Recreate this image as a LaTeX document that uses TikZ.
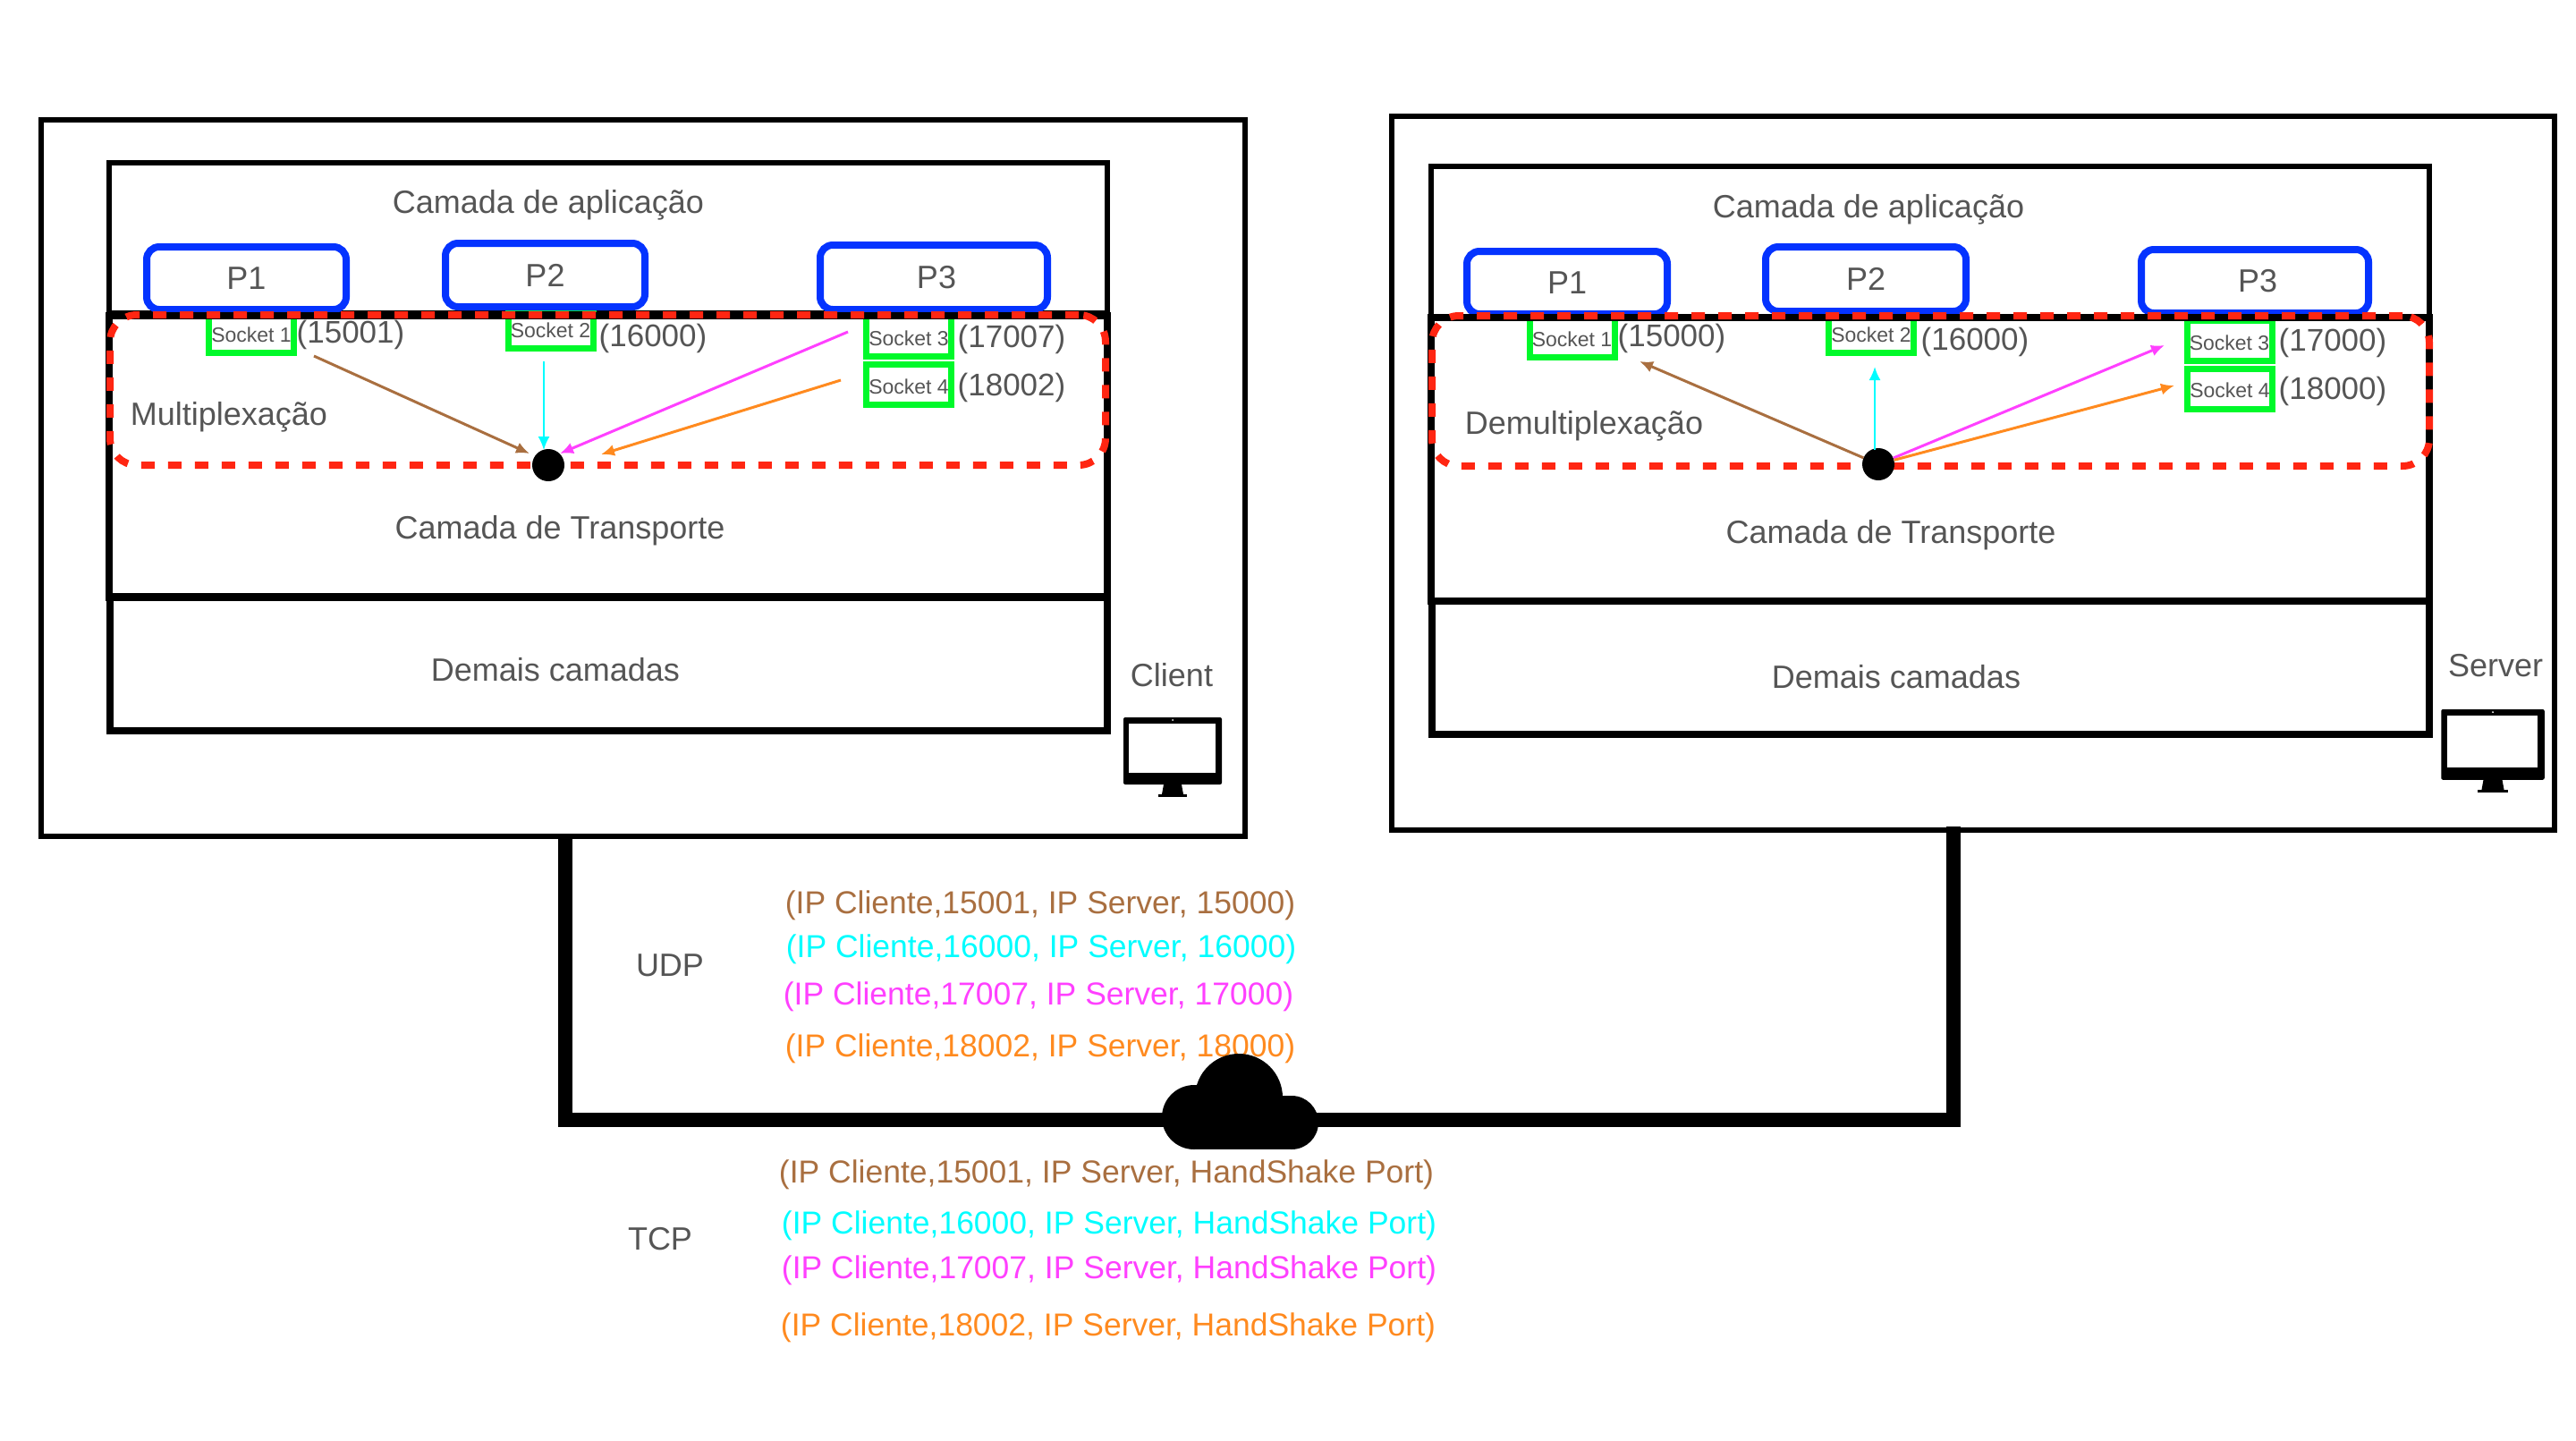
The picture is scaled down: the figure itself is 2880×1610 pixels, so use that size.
\documentclass[tikz,border=0pt]{standalone}
\usepackage{fontspec}
\setmainfont{Liberation Sans}
\usetikzlibrary{arrows.meta}
\definecolor{textgray}{HTML}{555555}
\definecolor{procblue}{HTML}{0433FF}
\definecolor{sockgreen}{HTML}{00F92A}
\definecolor{muxred}{HTML}{FF2612}
\definecolor{pktbrown}{HTML}{A96F40}
\definecolor{pktcyan}{HTML}{00FDFF}
\definecolor{pktmagenta}{HTML}{FF40FF}
\definecolor{pktorange}{HTML}{FF8A1F}

\begin{document}
\begin{tikzpicture}[x=1pt,y=-1pt,
    label/.style={text=textgray,font=\fontsize{36}{40}\selectfont,inner sep=0pt,yshift=-3pt},
    portlabel/.style={label,font=\fontsize{35}{40}\selectfont},
    pktlabel/.style={inner sep=0pt,font=\fontsize{35.5}{40}\selectfont,yshift=-3pt},
    hostbox/.style={rectangle,draw=black,line width=6.5pt,inner sep=0pt},
    layerbox/.style={rectangle,draw=black,line width=8pt,inner sep=0pt},
    procbox/.style={rectangle,draw=procblue,line width=8pt,rounded corners=14pt,inner sep=0pt,text=textgray,font=\fontsize{36}{40}\selectfont},
    sockbox/.style={rectangle,draw=sockgreen,line width=7pt,minimum width=95pt,minimum height=45pt,inner sep=0pt,text=textgray,font=\fontsize{23}{28}\selectfont,text height=20pt,text depth=0pt},
    muxbox/.style={rectangle,draw=muxred,line width=8pt,dash pattern=on 15pt off 15pt,rounded corners=30pt,inner sep=0pt},
    muxdot/.style={circle,fill=black,minimum size=36pt,inner sep=0pt},
    tipline/.style={-{Latex[length=15pt,width=13pt]},line width=3pt},
    buslink/.style={line width=16pt,draw=black},
    pics/monitor/.style={code={
        \fill[black,rounded corners=2pt] (-55,0) rectangle (55,75);
        \fill[white] (-49,7) rectangle (48,62);
        \fill[white] (0,3) circle (1);
        \fill[black] (-10,75) -- (10,75) -- (12,86) -- (-12,86) -- cycle;
        \fill[black] (-16,86) rectangle (16,89);
    }},
]
    \useasboundingbox (0,0) rectangle (2880,1610);

    % client host
    \node[hostbox,minimum width=1346pt,minimum height=801pt] at (719,534.5) (clientbox) {};
    \node[hostbox,minimum width=1116pt,minimum height=168pt] at (680,266) (clientapp) {};
    \node[sockbox] at (281,372) (clientsock1) {Socket 1};
    \node[sockbox] at (615.5,367) (clientsock2) {Socket 2};
    \node[sockbox] at (1016,376) (clientsock3) {Socket 3};
    \node[sockbox] at (1016,430) (clientsock4) {Socket 4};
    \node[procbox,minimum width=223pt,minimum height=70pt] at (275.5,311) (clientp1) {P1};
    \node[procbox,minimum width=223pt,minimum height=71pt] at (609.5,307.5) (clientp2) {P2};
    \node[procbox,minimum width=254pt,minimum height=72pt] at (1044,310) (clientp3) {\hspace{6pt}P3};
    \node[layerbox,minimum width=1116pt,minimum height=315pt] at (680,510) (clienttrans) {};
    \node[layerbox,minimum width=1115pt,minimum height=150pt] at (680.5,742) (clientrest) {};
    \node[muxbox,minimum width=1113pt,minimum height=168pt] at (679.5,436) (clientmux) {};
    \node[muxdot] at (613,520) (clientdot) {};

    \node[label] at (613,226) (clientapptext) {Camada de aplicação};
    \node[label] at (256,463) (clientmuxtext) {Multiplexação};
    \node[label] at (626,590) (clienttranstext) {Camada de Transporte};
    \node[label] at (621,746) (clientresttext) {Demais camadas};
    \node[label] at (1310,752) (clientname) {Client};
    \node[portlabel] at (392,371) (clientport1) {(15001)};
    \node[portlabel] at (730,375) (clientport2) {(16000)};
    \node[portlabel] at (1131,376) (clientport3) {(17007)};
    \node[portlabel] at (1131,430) (clientport4) {(18002)};
    \pic at (1311,802) {monitor};

    \coordinate (clientfrom1) at (351,398);
    \coordinate (clientto1) at (592,507);
    \coordinate (clientfrom2) at (608,404);
    \coordinate (clientto2) at (608,503);
    \coordinate (clientfrom3) at (948,371);
    \coordinate (clientto3) at (626,507);
    \coordinate (clientfrom4) at (940,425);
    \coordinate (clientto4) at (672,508);
    \draw[tipline,pktbrown] (clientfrom1) -- (clientto1);
    \draw[tipline,pktcyan,line width=2pt] (clientfrom2) -- (clientto2);
    \draw[tipline,pktmagenta] (clientfrom3) -- (clientto3);
    \draw[tipline,pktorange] (clientfrom4) -- (clientto4);

    % server host
    \node[hostbox,minimum width=1300pt,minimum height=798pt] at (2206,529) (serverbox) {};
    \node[hostbox,minimum width=1116pt,minimum height=169pt] at (2158,270.5) (serverapp) {};
    \node[sockbox] at (1757.5,377) (serversock1) {Socket 1};
    \node[sockbox] at (2092,372) (serversock2) {Socket 2};
    \node[sockbox] at (2492.5,381) (serversock3) {Socket 3};
    \node[sockbox] at (2493,434.5) (serversock4) {Socket 4};
    \node[procbox,minimum width=224pt,minimum height=70pt] at (1752,316) (serverp1) {P1};
    \node[procbox,minimum width=224pt,minimum height=72pt] at (2086,312) (serverp2) {P2};
    \node[procbox,minimum width=254pt,minimum height=71pt] at (2521,314.5) (serverp3) {\hspace{6pt}P3};
    \node[layerbox,minimum width=1116pt,minimum height=317pt] at (2158,513.5) (servertrans) {};
    \node[layerbox,minimum width=1115pt,minimum height=149pt] at (2158.5,746.5) (serverrest) {};
    \node[muxbox,minimum width=1115pt,minimum height=168pt] at (2158.5,437) (servermux) {};
    \node[muxdot] at (2100,519) (serverdot) {};

    \node[label] at (2089,231) (serverapptext) {Camada de aplicação};
    \node[label] at (1771,473) (servermuxtext) {Demultiplexação};
    \node[label] at (2114,595) (servertranstext) {Camada de Transporte};
    \node[label] at (2120,754) (serverresttext) {Demais camadas};
    \node[label] at (2790,741) (servername) {Server};
    \node[portlabel] at (1869,375) (serverport1) {(15000)};
    \node[portlabel] at (2208,379) (serverport2) {(16000)};
    \node[portlabel] at (2608,380) (serverport3) {(17000)};
    \node[portlabel] at (2608,434) (serverport4) {(18000)};
    \pic[scale=1.05] at (2787,793) {monitor};

    \coordinate (serverfrom2) at (2096,503);
    \coordinate (serverto1) at (1833,404);
    \coordinate (serverto2) at (2096,410);
    \coordinate (serverto3) at (2420,386);
    \coordinate (serverto4) at (2431,431);
    \draw[tipline,pktbrown] (serverdot) -- (serverto1);
    \draw[tipline,pktcyan,line width=2pt] (serverfrom2) -- (serverto2);
    \draw[tipline,pktmagenta] (serverdot) -- (serverto3);
    \draw[tipline,pktorange] (serverdot) -- (serverto4);

    % link between the hosts
    \coordinate (busleft) at (632,935);
    \coordinate (busright) at (2184,924);
    \coordinate (cloudpt) at (1387,1252);
    \draw[buslink] (busleft) |- (cloudpt) -| (busright);

    \node[label] at (749,1076) (udptext) {UDP};
    \node[label] at (738,1382) (tcptext) {TCP};
    \node[pktlabel,text=pktbrown] at (1163,1009) (udp1) {(IP Cliente,15001, IP Server, 15000)};
    \node[pktlabel,text=pktcyan] at (1164,1058) (udp2) {(IP Cliente,16000, IP Server, 16000)};
    \node[pktlabel,text=pktmagenta] at (1161,1111) (udp3) {(IP Cliente,17007, IP Server, 17000)};
    \node[pktlabel,text=pktorange] at (1163,1169) (udp4) {(IP Cliente,18002, IP Server, 18000)};
    \node[pktlabel,text=pktbrown] at (1237,1310) (tcp1) {(IP Cliente,15001, IP Server, HandShake Port)};
    \node[pktlabel,text=pktcyan] at (1240,1367) (tcp2) {(IP Cliente,16000, IP Server, HandShake Port)};
    \node[pktlabel,text=pktmagenta] at (1240,1417) (tcp3) {(IP Cliente,17007, IP Server, HandShake Port)};
    \node[pktlabel,text=pktorange] at (1239,1481) (tcp4) {(IP Cliente,18002, IP Server, HandShake Port)};

    % cloud
    \fill[black] (1335,1249) circle (36);
    \fill[black] (1385,1227) circle (49);
    \fill[black] (1444,1255) circle (30);
    \fill[black] (1335,1225) rectangle (1444,1285);
\end{tikzpicture}
\end{document}
